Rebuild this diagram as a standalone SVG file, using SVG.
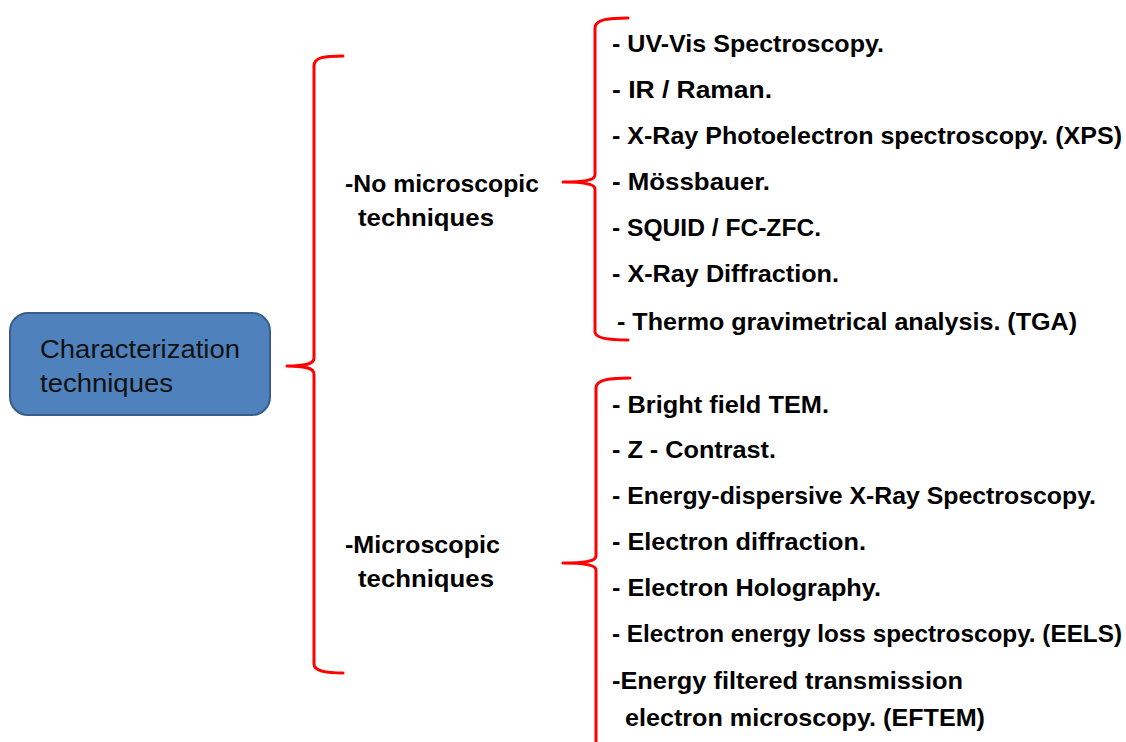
<svg xmlns="http://www.w3.org/2000/svg" width="1126" height="742" viewBox="0 0 1126 742">
<style>
.brace{fill:none;stroke:#ff0000;stroke-width:3;stroke-linecap:round;stroke-linejoin:round}
.item{font-family:"Liberation Sans",Arial,sans-serif;font-weight:bold;font-size:24px;fill:#000}
.root{font-family:"Liberation Sans",Arial,sans-serif;font-size:25px;fill:#111}
</style>
<rect width="1126" height="742" fill="#fff"/>
<g id="root">
<rect x="10" y="313" width="260" height="102" rx="18" fill="#4f81bd" stroke="#385d8a" stroke-width="2"/>
<text class="root" x="40" y="358" textLength="200" lengthAdjust="spacingAndGlyphs">Characterization</text>
<text class="root" x="40" y="392" textLength="133" lengthAdjust="spacingAndGlyphs">techniques</text>
</g>
<g id="connectors">
<path class="brace" d="M343,56 C325,56 314,57 314,66 L314,358 C314,364 305,366 287,366 C305,366 314,368 314,374 L314,664 C314,671 325,673 343,673"/>
<path class="brace" d="M628,18 C610,18 595,19 595,28 L595,175 C595,180 585,182 563,182 C585,182 595,184 595,189 L595,332 C595,338 610,340 628,340"/>
<path class="brace" d="M630,378 C612,378 596,379 596,388 L596,556 C596,561 586,563 563,563 C586,563 596,565 596,570 L596,742"/>
</g>
<g id="no-microscopic">
<text class="item" x="345" y="192" textLength="194" lengthAdjust="spacingAndGlyphs">-No microscopic</text>
<text class="item" x="358" y="226" textLength="136" lengthAdjust="spacingAndGlyphs">techniques</text>
</g>
<g id="microscopic">
<text class="item" x="345" y="553" textLength="155" lengthAdjust="spacingAndGlyphs">-Microscopic</text>
<text class="item" x="358" y="587" textLength="136" lengthAdjust="spacingAndGlyphs">techniques</text>
</g>
<g id="list-no-microscopic">
<text class="item" x="612" y="52" textLength="272" lengthAdjust="spacingAndGlyphs">- UV-Vis Spectroscopy.</text>
<text class="item" x="612" y="98" textLength="160" lengthAdjust="spacingAndGlyphs">- IR / Raman.</text>
<text class="item" x="612" y="144" textLength="510" lengthAdjust="spacingAndGlyphs">- X-Ray Photoelectron spectroscopy. (XPS)</text>
<text class="item" x="612" y="190" textLength="158" lengthAdjust="spacingAndGlyphs">- Mössbauer.</text>
<text class="item" x="612" y="236" textLength="209" lengthAdjust="spacingAndGlyphs">- SQUID / FC-ZFC.</text>
<text class="item" x="612" y="282" textLength="227" lengthAdjust="spacingAndGlyphs">- X-Ray Diffraction.</text>
<text class="item" x="617" y="330" textLength="460" lengthAdjust="spacingAndGlyphs">- Thermo gravimetrical analysis. (TGA)</text>
</g>
<g id="list-microscopic">
<text class="item" x="612" y="413" textLength="217" lengthAdjust="spacingAndGlyphs">- Bright field TEM.</text>
<text class="item" x="612" y="458" textLength="164" lengthAdjust="spacingAndGlyphs">- Z - Contrast.</text>
<text class="item" x="612" y="504" textLength="484" lengthAdjust="spacingAndGlyphs">- Energy-dispersive X-Ray Spectroscopy.</text>
<text class="item" x="612" y="550" textLength="254" lengthAdjust="spacingAndGlyphs">- Electron diffraction.</text>
<text class="item" x="612" y="596" textLength="269" lengthAdjust="spacingAndGlyphs">- Electron Holography.</text>
<text class="item" x="612" y="642" textLength="510" lengthAdjust="spacingAndGlyphs">- Electron energy loss spectroscopy. (EELS)</text>
<text class="item" x="612" y="689" textLength="351" lengthAdjust="spacingAndGlyphs">-Energy filtered transmission</text>
<text class="item" x="625" y="726" textLength="360" lengthAdjust="spacingAndGlyphs">electron microscopy. (EFTEM)</text>
</g>
</svg>
